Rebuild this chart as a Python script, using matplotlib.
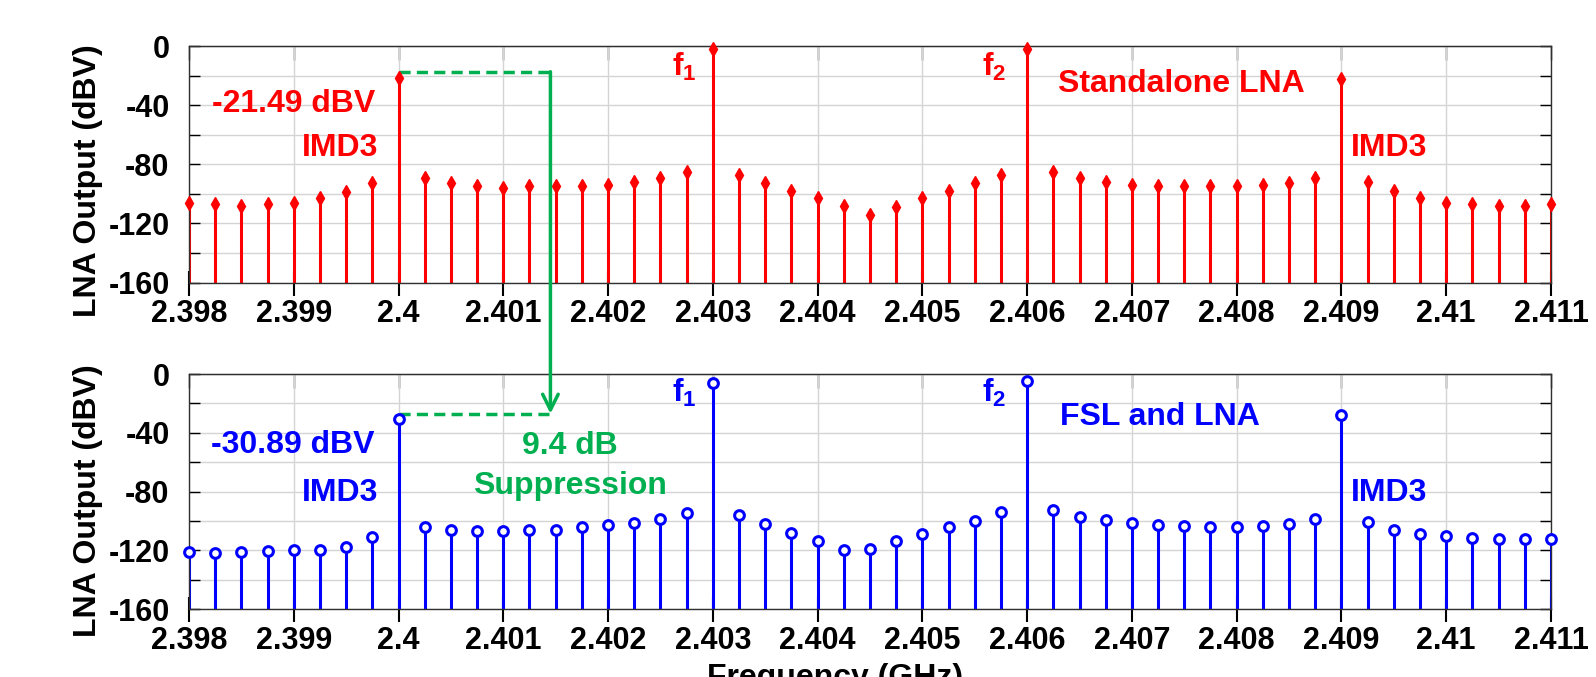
import numpy as np
import matplotlib
matplotlib.use("Agg")
import matplotlib.pyplot as plt
from matplotlib.patches import ConnectionPatch
from matplotlib.ticker import MultipleLocator

plt.rcParams['font.family'] = ['Liberation Sans', 'DejaVu Sans']
plt.rcParams['font.weight'] = 'bold'
plt.rcParams['axes.unicode_minus'] = False
plt.rcParams['mathtext.fontset'] = 'custom'
plt.rcParams['mathtext.rm'] = 'Liberation Sans:bold'
plt.rcParams['mathtext.bf'] = 'Liberation Sans:bold'
plt.rcParams['mathtext.it'] = 'Liberation Sans:bold'

# frequency grid (GHz), 0.25 MHz steps
freq = np.arange(53) * 0.00025 + 2.398

# standalone LNA output (dBV)
lna_only = [
    -106, -107, -108, -107, -106, -103, -99, -93,
    -21.49,
    -89, -93, -94.5, -96, -95, -95, -95, -94, -92, -89, -85,
    -2,
    -87, -93, -98, -103, -108, -114, -109, -103, -98, -93, -87,
    -2,
    -85, -89, -92, -94, -95, -95, -95, -95, -94, -93, -89,
    -22,
    -92, -98, -103, -106, -107, -108, -108, -107,
]

# FSL + LNA output (dBV)
fsl_lna = [
    -121.4, -121.7, -121, -120.5, -120, -119.6, -118, -111,
    -30.89,
    -104, -106, -107, -107, -106.4, -106, -104.4, -103, -101.5, -98.7, -94.4,
    -6,
    -96, -102.4, -108, -113.5, -120, -119.4, -113.5, -108.7, -104, -100, -93.7,
    -4.8,
    -92.6, -97, -99.6, -101.7, -103, -103.5, -104, -104.2, -103.5, -102, -99,
    -28,
    -101, -106, -109, -110.5, -111.7, -112.3, -112.3, -112.3,
]

xticks = np.arange(2.398, 2.4115, 0.001)
xticklabels = ['2.398', '2.399', '2.4', '2.401', '2.402', '2.403', '2.404',
               '2.405', '2.406', '2.407', '2.408', '2.409', '2.41', '2.411']

red = '#ff0000'
blue = '#0000ff'
green = '#00b050'
tick_fs = 22
ann_fs = 23

fig = plt.figure(figsize=(15.96, 6.77), dpi=100)
ax1 = fig.add_axes([0.1184, 0.5827, 0.8534, 0.3493])
ax2 = fig.add_axes([0.1184, 0.1004, 0.8534, 0.3471])


def style_axes(ax, label_y):
    ax.set_xlim(2.398, 2.411)
    ax.set_ylim(-160, 0)
    ax.set_xticks(xticks)
    ax.set_xticklabels(xticklabels)
    ax.yaxis.set_major_locator(MultipleLocator(40))
    ax.yaxis.set_minor_locator(MultipleLocator(20))
    ax.grid(True, which='both', color='#d4d4d4', lw=1.0)
    ax.set_axisbelow(True)
    for s in ax.spines.values():
        s.set_color('#303030')
        s.set_linewidth(1.0)
    ax.tick_params(axis='x', direction='inout', length=18, width=1.5,
                   pad=3, labelsize=tick_fs, colors='black')
    ax.tick_params(axis='y', which='both', direction='in', length=8,
                   width=1.0, left=True, right=True, pad=14,
                   labelsize=tick_fs)
    top = ax.secondary_xaxis('top')
    top.set_xticks(xticks)
    top.tick_params(direction='in', length=10, width=1.0, labeltop=False)
    top.spines['top'].set_color('#303030')
    for lab in ax.get_xticklabels() + ax.get_yticklabels():
        lab.set_fontweight('bold')
    ax.set_ylabel('LNA Output (dBV)', fontsize=ann_fs, fontweight='bold')
    ax.yaxis.set_label_coords(-0.063, label_y)


style_axes(ax1, 0.43)
style_axes(ax2, 0.46)

# stems
m, s, b = ax1.stem(freq, lna_only, bottom=-160, basefmt=' ')
plt.setp(s, color=red, lw=2.2)
plt.setp(m, color=red, marker='d', markersize=7.5, mec=red, mfc=red,
         clip_on=False, zorder=3)
b.set_visible(False)

m, s, b = ax2.stem(freq, fsl_lna, bottom=-160, basefmt=' ')
plt.setp(s, color=blue, lw=2.2)
plt.setp(m, color=blue, marker='o', markersize=7, mec=blue, mfc='white',
         mew=2.2, clip_on=False, zorder=3)
b.set_visible(False)

# annotations top
kw = dict(fontsize=ann_fs, fontweight='bold')
ax1.text(2.399775, -39, '-21.49 dBV', color=red, ha='right', va='center', **kw)
ax1.text(2.399803, -69, 'IMD3', color=red, ha='right', va='center', **kw)
ax1.text(2.402847, -14, r'$\mathbf{f_1}$', color=red, ha='right', va='center', **kw)
ax1.text(2.405805, -14, r'$\mathbf{f_2}$', color=red, ha='right', va='center', **kw)
ax1.text(2.406292, -26, 'Standalone LNA', color=red, ha='left', va='center', **kw)
ax1.text(2.409088, -69, 'IMD3', color=red, ha='left', va='center', **kw)

# annotations bottom
ax2.text(2.399775, -48, '-30.89 dBV', color=blue, ha='right', va='center', **kw)
ax2.text(2.399803, -81, 'IMD3', color=blue, ha='right', va='center', **kw)
ax2.text(2.402847, -13, r'$\mathbf{f_1}$', color=blue, ha='right', va='center', **kw)
ax2.text(2.405805, -13, r'$\mathbf{f_2}$', color=blue, ha='right', va='center', **kw)
ax2.text(2.406311, -29.5, 'FSL and LNA', color=blue, ha='left', va='center', **kw)
ax2.text(2.409088, -81, 'IMD3', color=blue, ha='left', va='center', **kw)
ax2.text(2.401636, -49, '9.4 dB', color=green, ha='center', va='center', **kw)
ax2.text(2.401636, -76, 'Suppression', color=green, ha='center', va='center', **kw)

# suppression marker
x_arrow = 2.40145
ax1.plot([2.4, x_arrow], [-17.4, -17.4], color=green, lw=2.5,
         dashes=(3.2, 1.8), clip_on=False)
ax2.plot([2.4, x_arrow], [-27, -27], color=green, lw=2.5,
         dashes=(3.2, 1.8), clip_on=False)
con = ConnectionPatch(xyA=(x_arrow, -17.4), coordsA=ax1.transData,
                      xyB=(x_arrow, -27), coordsB=ax2.transData,
                      arrowstyle='->', color=green, lw=2.5,
                      mutation_scale=28, shrinkA=0, shrinkB=0)
fig.add_artist(con)

fig.text(835 / 1596, 1 - 663 / 677, 'Frequency (GHz)', ha='center', va='top',
         fontsize=ann_fs, fontweight='bold')

fig.savefig('out.png', dpi=100, facecolor='white')
